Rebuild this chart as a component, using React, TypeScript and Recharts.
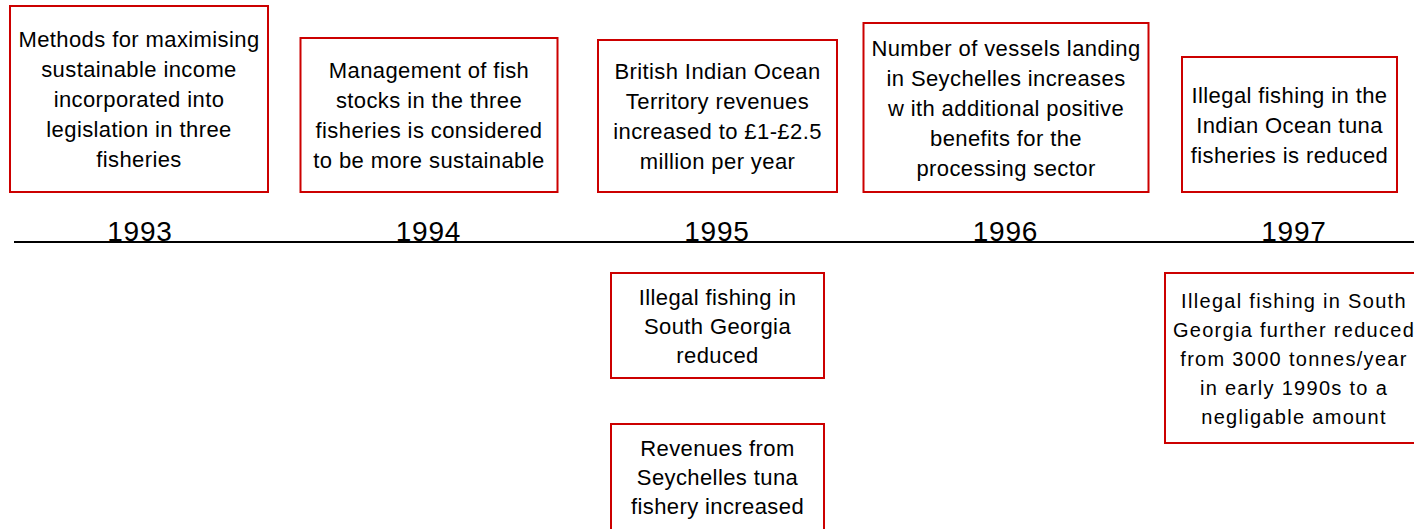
import React from 'react';
import { ComposedChart, XAxis, YAxis, ReferenceArea, ReferenceLine, Scatter } from 'recharts';

// ---- data ----
const years = [1993, 1994, 1995, 1996, 1997];
const yearLabels = ['1993', '1994', '1995', '1996', '1997'];

const eventYears = [1993, 1994, 1995, 1996, 1997, 1995, 1995, 1997];
const eventSides = ['above', 'above', 'above', 'above', 'above', 'below', 'below', 'below'];
const eventTexts: string[][] = [
  ['Methods for maximising', 'sustainable income', 'incorporated into', 'legislation in three', 'fisheries'],
  ['Management of fish', 'stocks in the three', 'fisheries is considered', 'to be more sustainable'],
  ['British Indian Ocean', 'Territory revenues', 'increased to £1-£2.5', 'million per year'],
  ['Number of vessels landing', 'in Seychelles increases', 'w ith additional positive', 'benefits for the', 'processing sector'],
  ['Illegal fishing in the', 'Indian Ocean tuna', 'fisheries is reduced'],
  ['Illegal fishing in', 'South Georgia', 'reduced'],
  ['Revenues from', 'Seychelles tuna', 'fishery increased'],
  ['Illegal fishing in South', 'Georgia further reduced', 'from 3000 tonnes/year', 'in early 1990s to a', 'negligable amount'],
];

// ---- layout (sizes/positions, not data) ----
const W = 1414;
const H = 529;
const PX_PER_YEAR = 288.5;
const FIRST_YEAR_PX = 140;
const X_MIN = 1993 - FIRST_YEAR_PX / PX_PER_YEAR;
const X_MAX = 1993 + (W - FIRST_YEAR_PX) / PX_PER_YEAR;
const LINE_PX = 242;
const Y_MAX = LINE_PX; // units = px above the timeline
const Y_MIN = LINE_PX - H;
const LINE_START = 1993 - (FIRST_YEAR_PX - 14) / PX_PER_YEAR;

// box layout: [offset of centre from year (px), width (px), top (units above line), bottom (units above line)]
const boxLayout: [number, number, number, number][] = [
  [-1, 258, 236, 50],
  [0.5, 257, 204, 50],
  [0.5, 239, 202, 50],
  [0.5, 285, 219, 50],
  [-4.5, 215, 185, 50],
  [0.5, 213, -31, -136],
  [0.5, 213, -182, -288],
  [0, 258, -31, -201],
];
const boxFont: [number, number, number][] = [
  [22, 0.4, 30],
  [22, 0.4, 30],
  [22, 0.4, 30],
  [22, 0.4, 30],
  [22, 0.4, 30],
  [22, 0.4, 29],
  [22, 0.4, 29],
  [20, 1.3, 29],
];

const RED = '#cc0000';
const FONT = '"Liberation Sans", Arial, sans-serif';

const yearData = years.map((y, i) => ({ x: y, y: 0, label: yearLabels[i] }));

const makeBoxShape = (idx: number) => (props: any) => {
  const { x, y, width, height } = props;
  const lines = eventTexts[idx];
  const [fs, ls, lh] = boxFont[idx];
  const cx = x + width / 2;
  const cy = y + height / 2;
  const n = lines.length;
  return (
    <g>
      <rect x={x} y={y} width={width} height={height} fill="#fff" stroke={RED} strokeWidth={2} />
      <text fontFamily={FONT} fontSize={fs} letterSpacing={ls} fill="#000" textAnchor="middle">
        {lines.map((l, i) => (
          <tspan key={i} x={cx} y={cy + (i - (n - 1) / 2) * lh + fs * 0.38}>
            {l}
          </tspan>
        ))}
      </text>
    </g>
  );
};

const YearShape = (props: any) => {
  const { cx, cy, payload } = props;
  return (
    <text x={cx} y={cy - 1} textAnchor="middle" fontFamily={FONT} fontSize={28} letterSpacing={0.8} fill="#000">
      {payload.label}
    </text>
  );
};

export default function App() {
  return (
    <div style={{ position: 'absolute', left: 0, top: 0, width: W, height: H, background: '#fff' }}>
      <ComposedChart width={W} height={H} margin={{ top: 0, right: 0, bottom: 0, left: 0 }} data={yearData}>
        <XAxis type="number" dataKey="x" domain={[X_MIN, X_MAX]} hide allowDataOverflow />
        <YAxis type="number" dataKey="y" domain={[Y_MIN, Y_MAX]} hide allowDataOverflow />
        <ReferenceLine
          segment={[{ x: LINE_START, y: 0 }, { x: X_MAX, y: 0 }]}
          stroke="#000"
          strokeWidth={2}
          ifOverflow="visible"
        />
        {eventYears.map((yr, i) => {
          const [off, w, top, bottom] = boxLayout[i];
          const c = yr + off / PX_PER_YEAR;
          const half = w / 2 / PX_PER_YEAR;
          return (
            <ReferenceArea
              key={i}
              x1={c - half}
              x2={c + half}
              y1={bottom}
              y2={top}
              ifOverflow="visible"
              shape={makeBoxShape(i)}
            />
          );
        })}
        <Scatter data={yearData} dataKey="y" shape={YearShape} isAnimationActive={false} />
      </ComposedChart>
    </div>
  );
}
